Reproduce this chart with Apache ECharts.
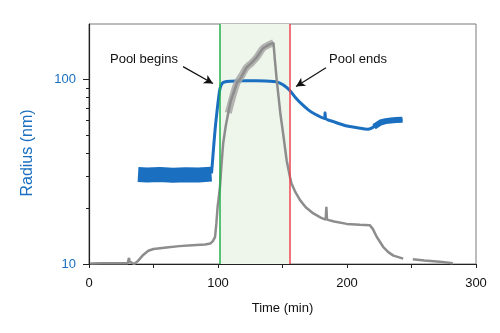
<!DOCTYPE html>
<html>
<head>
<meta charset="utf-8">
<script src="https://cdn.jsdelivr.net/npm/echarts@6/dist/echarts.min.js"></script>
<style>html,body{margin:0;padding:0;background:#fff;}#c{width:500px;height:333px;}</style>
</head>
<body>
<div id="c"></div>
<script>
// ---- data ----
const xTicks = [0, 100, 200, 300];
const yMajorTicks = [10, 100];
const yMinorTicks = [20, 30, 40, 50, 60, 70, 80, 90];

// blue: noisy baseline band before the pool
const timeBlueNoise   = [38, 45, 55, 65, 75, 85, 95];
const radiusBlueNoise = [30.6, 30.4, 30.6, 30.3, 30.5, 30.4, 30.7];

// blue: main radius trace
const timeBlue   = [95, 96, 97.7, 99, 100.5, 101.5, 102.8, 105, 110, 120, 130, 140, 144, 148, 152, 155.5, 160, 165, 170, 175, 182.5, 183, 183.5, 190, 200, 208, 216, 219, 225, 233, 243];
const radiusBlue = [31, 38, 53, 65, 80, 89, 94.5, 97, 98, 98.5, 98.5, 98, 97.5, 95.5, 92, 87.5, 80, 73.5, 68.5, 65, 61.5, 66, 61.5, 59, 56, 54.8, 53.7, 54.5, 58, 59.8, 60.6];

// blue: noisy tail
const timeBlueTail   = [221, 226, 230, 234, 238, 243];
const radiusBlueTail = [55.5, 58.5, 59.5, 60, 60.3, 60.6];

// gray: intensity trace
const timeGray   = [1, 10, 20, 30, 31, 31.5, 33, 35, 38, 42, 46, 50, 60, 70, 80, 90, 94, 96, 97.7, 98.7, 99.7, 101.5, 102.5, 104, 106, 108, 110, 114.5, 118, 122, 126, 130, 135, 140, 143, 144, 145.5, 147, 148.5, 150, 151.5, 153.2, 155.8, 157, 160, 163.6, 168, 173.9, 180, 183.5, 184, 184.5, 190, 199.8, 210, 217.8, 220, 223, 228, 232, 236, 243.6, 246, 251, 260, 272, 282];
const radiusGray = [10.05, 10.1, 10.1, 10.1, 10.8, 10.3, 10.05, 10.0, 10.4, 11.2, 11.8, 12.05, 12.3, 12.5, 12.65, 12.75, 12.9, 13.3, 14.0, 16.5, 20.4, 26, 33, 45, 56, 66, 77, 95, 103, 116, 123, 132, 148, 155, 158, 130, 100, 80, 64, 54, 45, 36.5, 29.6, 27.3, 24.5, 22.2, 20.3, 18.8, 17.8, 17.4, 20.4, 17.4, 17, 16.5, 16.3, 16.2, 15.5, 14.05, 12.4, 11.6, 11.1, 10.7, null, 10.6, 10.45, 10.3, 10.1];

// gray: wide noisy band during the pool
const timeGrayPool   = [108, 114.5, 118, 122, 126, 130, 135, 140, 143];
const radiusGrayPool = [66, 95, 104, 116, 123, 132, 148, 155, 158];

// pool boundaries (min)
const poolStart = 101.5;
const poolEnd = 155.3;

// ---- build ----
const zip = (a, b) => a.map((t, i) => [t, b[i]]);
const FONT = "'Liberation Sans', Arial, Helvetica, sans-serif";
const BLUE = '#1a6fc0';
const GRAY = '#8d8d8d';

const chart = echarts.init(document.getElementById('c'), null, {renderer: 'canvas'});
chart.setOption({
  animation: false,
  backgroundColor: '#fff',
  textStyle: {fontFamily: FONT},
  grid: {left: 89, right: 24, top: 24, bottom: 69, show: true, borderColor: '#7a7a7a', borderWidth: 1, backgroundColor: 'transparent'},
  xAxis: [{
    type: 'value', min: 0, max: 300, interval: 50,
    name: 'Time (min)', nameLocation: 'middle', nameGap: 38,
    nameTextStyle: {color: '#111', fontSize: 13, fontFamily: FONT},
    axisLine: {lineStyle: {color: '#222', width: 1.2}},
    axisTick: {length: 4, lineStyle: {color: '#222', width: 1}},
    axisLabel: {margin: 13, color: '#111', fontSize: 13, fontFamily: FONT,
      formatter: v => (xTicks.indexOf(v) >= 0 ? String(v) : '')},
    splitLine: {show: false}
  }],
  yAxis: [{
    type: 'log', logBase: 10, min: 10, max: 200,
    name: 'Radius (nm)', nameLocation: 'middle', nameGap: 53,
    nameTextStyle: {color: BLUE, fontSize: 16, fontFamily: FONT, padding: [0, 18, 0, 0]},
    axisLine: {show: true, lineStyle: {color: '#222', width: 1.2}},
    axisTick: {show: true, length: 6, customValues: yMajorTicks, lineStyle: {color: '#222'}},
    axisLabel: {margin: 13, color: BLUE, fontSize: 13, fontFamily: FONT, customValues: yMajorTicks},
    splitLine: {show: false}
  }, {
    type: 'log', logBase: 10, min: 10, max: 200, position: 'left',
    axisLine: {show: false},
    axisTick: {show: true, length: 3, customValues: yMinorTicks, lineStyle: {color: '#222'}},
    axisLabel: {show: false},
    splitLine: {show: false}
  }],
  series: [
    {
      name: 'marks', type: 'line', data: [], z: 1, silent: true,
      markArea: {silent: true, itemStyle: {color: '#eef5ea'}, data: [[{xAxis: poolStart}, {xAxis: poolEnd}]]},
      markLine: {silent: true, symbol: ['none', 'none'], label: {show: false},
        data: [
          {xAxis: poolStart, lineStyle: {color: '#22b14c', width: 1.5, type: 'solid'}},
          {xAxis: poolEnd, lineStyle: {color: '#ec4650', width: 1.5, type: 'solid'}}
        ]}
    },
    {name: 'blueNoise', type: 'line', z: 2, showSymbol: false, data: zip(timeBlueNoise, radiusBlueNoise),
      lineStyle: {color: BLUE, width: 15, cap: 'butt'}},
    {name: 'blueTail', type: 'line', z: 2, showSymbol: false, data: zip(timeBlueTail, radiusBlueTail),
      lineStyle: {color: BLUE, width: 6}},
    {name: 'blue', type: 'line', z: 3, showSymbol: false, smooth: 0.3, data: zip(timeBlue, radiusBlue),
      lineStyle: {color: BLUE, width: 3}},
    {name: 'grayPool', type: 'line', z: 4, showSymbol: false, smooth: 0.3, data: zip(timeGrayPool, radiusGrayPool),
      lineStyle: {color: '#a8a8a8', width: 7, opacity: 0.85}},
    {name: 'gray', type: 'line', z: 4, showSymbol: false, connectNulls: false, data: zip(timeGray, radiusGray),
      lineStyle: {color: GRAY, width: 2.5}},
    {
      name: 'annot', type: 'line', data: [], z: 6, silent: true,
      markLine: {silent: true, symbol: ['none', 'arrow'], symbolSize: [7, 9], label: {show: false},
        lineStyle: {color: '#111', width: 1.2, type: 'solid'},
        data: [
          [{coord: [72.9, 117.5]}, {coord: [96.1, 95.1]}],
          [{coord: [183.7, 116]}, {coord: [160.5, 91.6]}]
        ]},
      markPoint: {silent: true, symbol: 'circle', symbolSize: 0,
        label: {show: true, position: 'inside', color: '#111', fontSize: 13, fontFamily: FONT},
        data: [
          {coord: [42.6, 128], label: {formatter: 'Pool begins'}},
          {coord: [208.5, 128], label: {formatter: 'Pool ends'}}
        ]}
    }
  ]
});
</script>
</body>
</html>
